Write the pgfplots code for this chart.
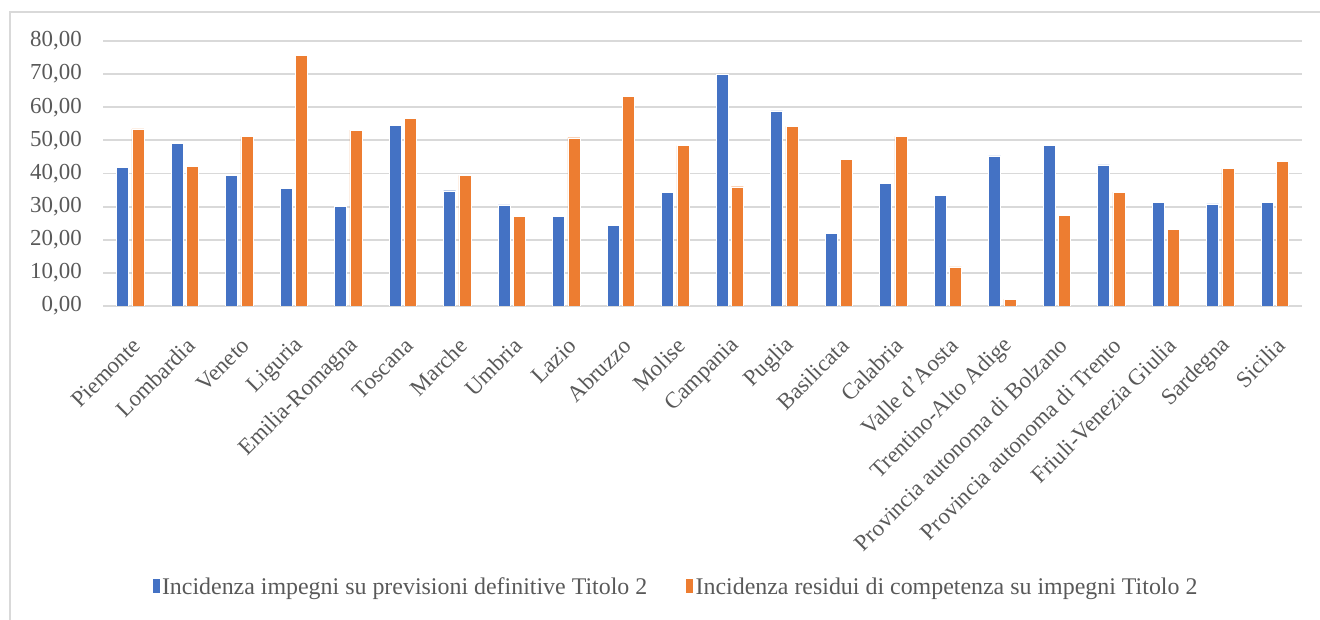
\documentclass[border=0pt]{standalone}
\usepackage{fontspec}
\setmainfont{Liberation Serif}
\usepackage{pgfplots}
\pgfplotsset{compat=1.18}
\definecolor{cblue}{HTML}{4472C4}
\definecolor{corange}{HTML}{ED7D31}
\definecolor{cgrid}{HTML}{D9D9D9}
\definecolor{ctext}{HTML}{595959}
\begin{document}
\begin{tikzpicture}
\path[use as bounding box] (0,0) rectangle (1320bp,620bp);
\draw[cgrid, line width=1.5bp] (10bp,0) -- (10bp,608bp) -- (1320bp,608bp);
\begin{axis}[
  at={(103bp,314bp)}, anchor=south west,
  width=1199bp, height=265bp, scale only axis,
  ymin=0, ymax=80, ytick={0,10,...,80},
  xmin=-0.5, xmax=21.5,
  xtick={0,...,21},
  xticklabels={Piemonte,Lombardia,Veneto,Liguria,Emilia-Romagna,Toscana,Marche,Umbria,Lazio,Abruzzo,Molise,Campania,Puglia,Basilicata,Calabria,Valle d'Aosta,Trentino-Alto Adige,Provincia autonoma di Bolzano,Provincia autonoma di Trento,Friuli-Venezia Giulia,Sardegna,Sicilia},
  axis line style={draw=none},
  tick style={draw=none},
  ymajorgrids, grid style={cgrid, line width=1.8bp},
  /pgf/number format/assume math mode=true,
  /pgf/number format/.cd, fixed, fixed zerofill, precision=2, use comma, 1000 sep={}, /pgfplots/.cd,
  yticklabel style={inner sep=0pt, xshift=-21bp, text=ctext, font=\fontsize{23}{27}\selectfont},
  xticklabel style={rotate=45, anchor=east, inner sep=0pt, yshift=-27bp, xshift=-18bp, text=ctext, font=\fontsize{23}{27}\selectfont},
  ybar, bar width=12bp,
  legend columns=2,
  legend style={at={(rel axis cs:0.4775,-1.06)}, anchor=center, draw=none, fill=none,
    font=\fontsize{24}{28}\selectfont, text=ctext, inner sep=0pt,
    /tikz/every even column/.append style={column sep=36bp}},
  legend image code/.code={\fill[#1] (2bp,-6bp) rectangle (10bp,9bp);},
]
\addplot[fill=cblue, draw=white, line width=0.4bp, bar shift=-7.7bp] coordinates {
(0,41.9) (1,49.1) (2,39.4) (3,35.6) (4,30.1) (5,54.6) (6,34.8) (7,30.5) (8,27.0) (9,24.3) (10,34.4)
(11,69.9) (12,58.9) (13,21.9) (14,37.1) (15,33.3) (16,45.3) (17,48.4) (18,42.6) (19,31.2) (20,30.8) (21,31.2)};
\addplot[fill=corange, draw=white, line width=0.4bp, bar shift=7.7bp] coordinates {
(0,53.5) (1,42.2) (2,51.2) (3,75.7) (4,53.1) (5,56.6) (6,39.4) (7,27.0) (8,50.8) (9,63.2) (10,48.4)
(11,36.0) (12,54.2) (13,44.2) (14,51.2) (15,11.8) (16,2.1) (17,27.4) (18,34.4) (19,23.1) (20,41.5) (21,43.7)};
\legend{Incidenza impegni su previsioni definitive Titolo 2, Incidenza residui di competenza su impegni Titolo 2}
\end{axis}
\end{tikzpicture}
\end{document}
